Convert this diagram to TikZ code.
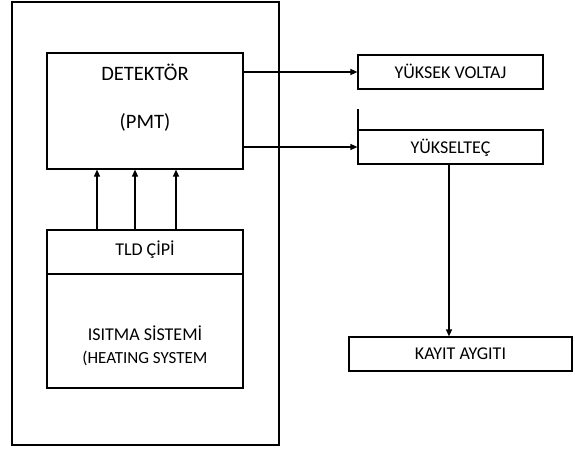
\documentclass[tikz,border=0pt]{standalone}
\usepackage{fontspec}
\setmainfont{Carlito}
\usetikzlibrary{arrows.meta}
\begin{document}
\begin{tikzpicture}[x=1pt,y=-1pt,
  box/.style={draw,line width=1.2pt,rectangle,inner sep=0pt},
  lbl/.style={anchor=base,inner sep=0pt,font=\fontsize{18}{20}\selectfont},
  biglbl/.style={anchor=base,inner sep=0pt,font=\fontsize{20.5}{22}\selectfont},
  arr/.style={line width=1.2pt,-{Triangle[length=7pt,width=6pt]}},
  ln/.style={line width=1.2pt}]
\useasboundingbox (0,0) rectangle (575,450);
% outer frame
\node[box,minimum width=267pt,minimum height=443pt] (outer) at (145.5,223.5) {};
% detector
\node[box,minimum width=196pt,minimum height=116pt] (det) at (145,111) {};
\node[biglbl] (detT) at (145,80) {DETEKTÖR};
\node[biglbl] (pmt) at (145,128) {(PMT)};
% TLD + heating
\node[box,minimum width=196pt,minimum height=158pt] (tld) at (145,309) {};
\coordinate (divL) at (47,274);
\coordinate (divR) at (243,274);
\draw[ln] (divL) -- (divR);
\node[lbl] (tldT) at (145,255) {TLD ÇİPİ};
\node[lbl] (isi) at (145,340) {ISITMA SİSTEMİ};
\node[anchor=base,inner sep=0pt,font=\fontsize{17}{19}\selectfont] (heat) at (145,363) {(HEATING SYSTEM};
% arrows TLD -> detector
\foreach \xx in {97,135,176}{
  \draw[arr] (tld.north -| \xx,0) -- (det.south -| \xx,0);
}
% right boxes
\node[box,minimum width=185pt,minimum height=34pt] (yv) at (450.5,72) {};
\node[lbl] (yvT) at (450.5,78) {YÜKSEK VOLTAJ};
\node[box,minimum width=185pt,minimum height=34pt] (yuk) at (450.5,147) {};
\node[lbl] (yukT) at (450.5,153) {YÜKSELTEÇ};
\node[box,minimum width=223pt,minimum height=34pt] (kay) at (460.5,354) {};
\node[lbl] (kayT) at (460.5,359) {KAYIT AYGITI};
% connectors
\draw[arr] (det.east |- yv.west) -- (yv.west);
\draw[arr] (det.east |- yuk.west) -- (yuk.west);
\coordinate (yukdown) at (449,164);
\draw[arr] (yukdown) -- (kay.north -| yukdown);
% small thick mark
\coordinate (mA) at (358,109);
\coordinate (mB) at (358,129);
\draw[line width=2pt] (mA) -- (mB);
\end{tikzpicture}
\end{document}
